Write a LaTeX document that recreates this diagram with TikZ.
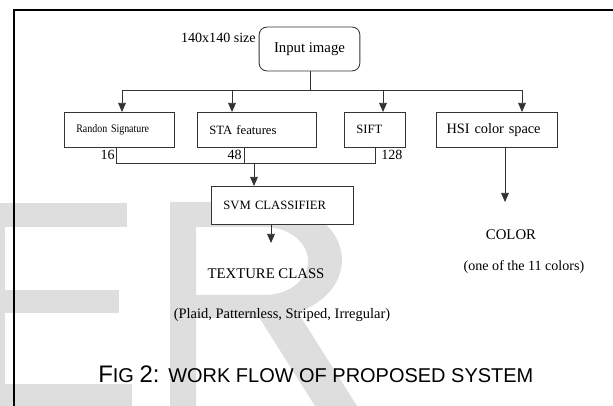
\documentclass[tikz,border=0pt]{standalone}
\usepackage{fontspec}
\setmainfont{Liberation Serif}
\newfontfamily\narrowfont[FakeStretch=0.86]{Liberation Serif}
\newfontfamily\capfont{Liberation Sans}
\usepackage{tikz}
\usetikzlibrary{arrows.meta}

\tikzset{
  line/.style={draw=black!80, line width=0.6pt},
  arr/.style={line, -{Triangle[length=6.5pt,width=5.5pt]}},
  box/.style={line, fill=white, anchor=north west, inner xsep=8.5pt,
    minimum height=24.8pt, text width=#1, align=left},
  num/.style={font=\fontsize{10}{11}\selectfont, inner sep=0pt},
  wmark/.style={fill=black!13, draw=none}
}

\begin{document}
\begin{tikzpicture}[x=0.025cm, y=-0.025cm]
\useasboundingbox (0,0) rectangle (613,406);

% watermark
\fill[wmark] (0,203) rectangle (5,406);
\fill[wmark] (0,203) rectangle (127,227);
\fill[wmark] (0,290) rectangle (119,313);
\fill[wmark] (0,384) rectangle (132,406);
\fill[wmark, even odd rule] (170,406) -- (170,202) -- (265,202)
  arc[start angle=-90, end angle=90, x radius=77, y radius=58] -- (196,318) -- (196,406) -- cycle
  (196,227) -- (265,227) arc[start angle=-90, end angle=90, x radius=43, y radius=34] -- (196,295) -- cycle;
\fill[wmark] (250,303) -- (292,303) -- (357,406) -- (315,406) -- cycle;

% frame
\draw [line width=1.4pt] (613,10) -- (14,10) -- (14,406);

% boxes
\node [line, fill=white, rounded corners=5.5pt, minimum width=71.6pt, minimum height=31.2pt,
  font=\fontsize{10.5}{12}\selectfont] (input) at (309.5,49) {Input image};
\node [anchor=east, inner sep=0pt, font=\fontsize{10}{12}\selectfont] (size) at (256,38) {140x140 size};

\node [box=61pt, font=\narrowfont\fontsize{8.2}{9}\selectfont] (randon) at (64,112) {Randon Signature};
\node [box=67.3pt, font=\fontsize{9}{10}\selectfont] (sta) at (197,112) {STA features};
\node [box=26.2pt, font=\fontsize{9}{10}\selectfont] (sift) at (344,112) {SIFT};
\node [box=71.3pt, inner xsep=7.25pt, font=\fontsize{10.2}{12}\selectfont] (hsi) at (436,112) {HSI color space};
\node [box=84.3pt, minimum height=26.9pt, font=\fontsize{9}{10}\selectfont] (svm) at (211,186) {SVM CLASSIFIER};

% split from input image
\coordinate (split) at (310,90);
\coordinate (s1) at (122,90);
\coordinate (s2) at (232,90);
\coordinate (s3) at (383,90);
\coordinate (s4) at (522,90);
\draw [line] (input.south -| split) -- (split);
\draw [line] (s1) -- (s4);
\draw [arr] (s1) -- (s1 |- randon.north);
\draw [arr] (s2) -- (s2 |- sta.north);
\draw [arr] (s3) -- (s3 |- sift.north);
\draw [arr] (s4) -- (s4 |- hsi.north);

% feature vector joined
\coordinate (b1) at (116,163);
\coordinate (b2) at (375,163);
\coordinate (b3) at (244,163);
\coordinate (b4) at (254,163);
\draw [line] (randon.south -| b1) -- (b1) -- (b2) -- (sift.south -| b2);
\draw [line] (sta.south -| b3) -- (b3);
\draw [arr] (b4) -- (b4 |- svm.north);
\node [num, anchor=east] (n16) at (115,155) {16};
\node [num, anchor=east] (n48) at (242,155) {48};
\node [num, anchor=west] (n128) at (381,155) {128};

% outputs
\coordinate (t1) at (271,243);
\coordinate (c1) at (505,202);
\draw [arr] (svm.south -| t1) -- (t1);
\draw [arr] (hsi.south -| c1) -- (c1);

\node [font=\fontsize{10.5}{12}\selectfont] (texture) at (266,274) {TEXTURE CLASS};
\node [font=\fontsize{10.3}{12}\selectfont] (classes) at (282,315) {(Plaid, Patternless, Striped, Irregular)};
\node [font=\fontsize{10.5}{12}\selectfont] (color) at (511,235) {COLOR};
\node [font=\fontsize{10}{12}\selectfont] (colors) at (524,267) {(one of the 11 colors)};

% caption
\node [anchor=west, inner sep=0pt, font=\capfont] (caption) at (98,374)
  {\fontsize{17}{20}\selectfont F\fontsize{14.2}{16}\selectfont IG \fontsize{17}{20}\selectfont 2: \fontsize{14.2}{16}\selectfont WORK FLOW OF PROPOSED SYSTEM};
\end{tikzpicture}
\end{document}
